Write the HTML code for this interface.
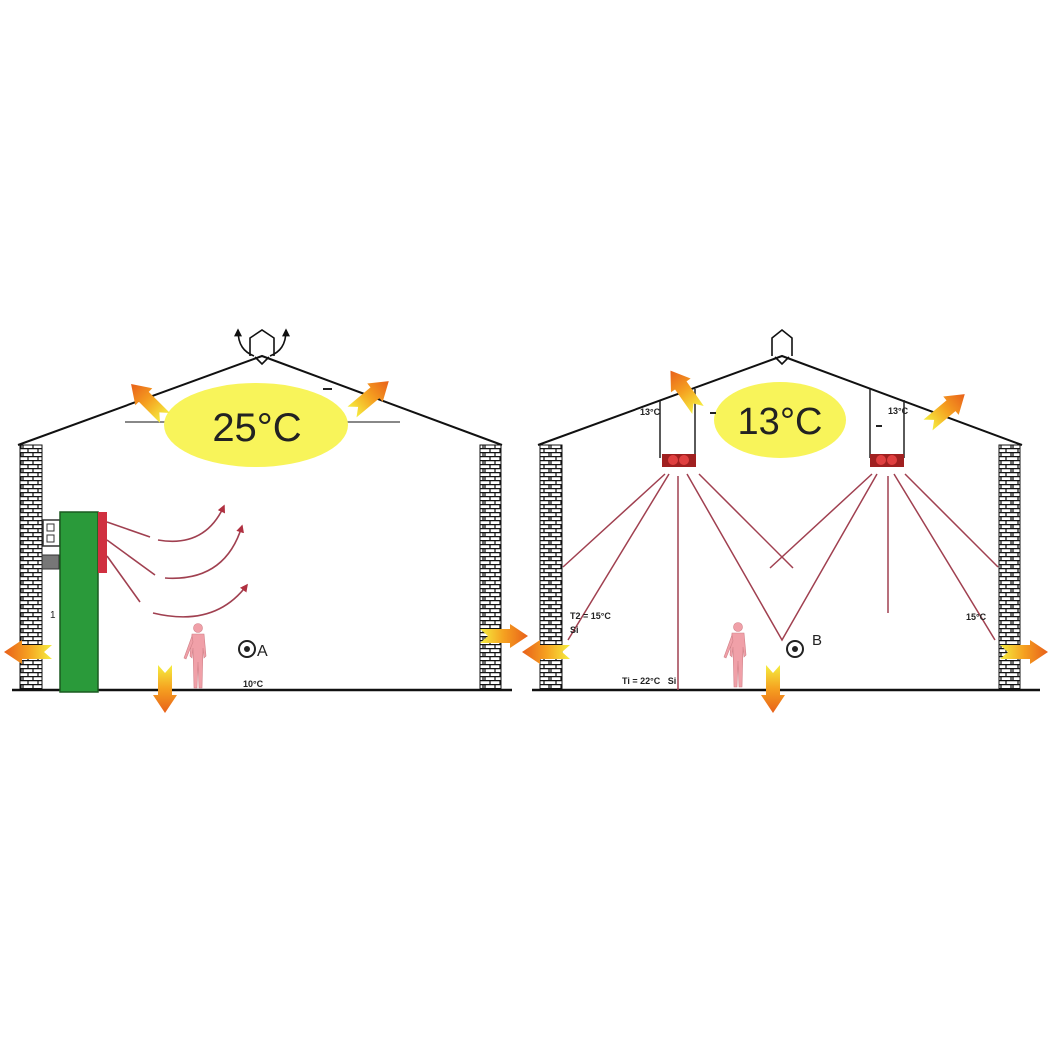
<!DOCTYPE html>
<html><head><meta charset="utf-8"><style>
html,body{margin:0;padding:0;background:#fff;}
svg{display:block;font-family:"Liberation Sans",sans-serif;}
</style></head><body>
<svg width="1050" height="1050" viewBox="0 0 1050 1050" xmlns="http://www.w3.org/2000/svg">
<defs>
<pattern id="brick" x="0" y="0" width="22" height="8" patternUnits="userSpaceOnUse">
<rect width="22" height="8" fill="#fff"/>
<g fill="none" stroke="#111" stroke-width="1.2">
<line x1="0" y1="0.6" x2="22" y2="0.6"/><line x1="0" y1="4.6" x2="22" y2="4.6"/>
<line x1="6" y1="0" x2="6" y2="4.6"/><line x1="16" y1="0" x2="16" y2="4.6"/>
<line x1="1" y1="4.6" x2="1" y2="8"/><line x1="11" y1="4.6" x2="11" y2="8"/><line x1="21" y1="4.6" x2="21" y2="8"/>
</g>
</pattern>
<linearGradient id="og" x1="0" y1="0" x2="1" y2="0">
<stop offset="0" stop-color="#f5ee40"/><stop offset="0.5" stop-color="#f5a020"/><stop offset="1" stop-color="#e8601a"/>
</linearGradient>
<g id="arr"><polygon points="0,-7 8,0 0,7 30,7 30,12 48,0 30,-12 30,-7" fill="url(#og)"/></g>
<marker id="ah" viewBox="0 0 10 10" refX="8" refY="5" markerWidth="5" markerHeight="5" orient="auto"><path d="M0,0 L10,5 L0,10 z" fill="#b03040"/></marker>
<marker id="bh" viewBox="0 0 10 10" refX="8" refY="5" markerWidth="5" markerHeight="5" orient="auto"><path d="M0,0 L10,5 L0,10 z" fill="#111"/></marker>
<g id="person" fill="#f0a0a8" stroke="#d08088" stroke-width="0.6">
<circle cx="0" cy="0" r="4.5"/>
<path d="M-6,6 L6,6 L8,28 L6,30 L5,20 L4,60 L1,60 L0,34 L-1,60 L-4,60 L-5,20 L-6,30 L-8,28 Z"/>
<path d="M-6,8 L-14,30 L-12,31 L-5,14 Z"/>
</g>
</defs>

<!-- LEFT BUILDING -->
<polyline points="18,445 262,356 502,445" fill="none" stroke="#111" stroke-width="2"/>
<rect x="20" y="445" width="22" height="245" fill="url(#brick)" stroke="#111"/>
<rect x="480" y="445" width="21" height="245" fill="url(#brick)" stroke="#111"/>
<line x1="12" y1="690" x2="512" y2="690" stroke="#111" stroke-width="2.5"/>
<line x1="125" y1="422" x2="168" y2="422" stroke="#888" stroke-width="2"/>
<line x1="343" y1="422" x2="400" y2="422" stroke="#888" stroke-width="2"/>
<line x1="323" y1="389" x2="332" y2="389" stroke="#222" stroke-width="2"/>
<ellipse cx="256" cy="425" rx="92" ry="42" fill="#f8f45a"/>
<text x="257" y="441" font-size="40" text-anchor="middle" fill="#222">25°C</text>
<g fill="none" stroke="#111" stroke-width="1.6">
<path d="M250,356 L250,338 L262,330 L274,338 L274,356"/>
<path d="M255,357 L262,364 L269,357"/>
<path d="M254,356 C244,352 238,345 238,330" marker-end="url(#bh)"/>
<path d="M270,356 C280,352 286,345 286,330" marker-end="url(#bh)"/>
</g>
<rect x="43" y="520" width="17" height="26" fill="#fff" stroke="#333" stroke-width="1.5"/>
<rect x="47" y="524" width="7" height="7" fill="#fff" stroke="#333"/>
<rect x="47" y="535" width="7" height="7" fill="#fff" stroke="#333"/>
<rect x="42" y="555" width="17" height="14" fill="#777" stroke="#333"/>
<rect x="60" y="512" width="38" height="180" fill="#2a9a3a" stroke="#1a5a20" stroke-width="1.5"/>
<rect x="98" y="512" width="9" height="61" fill="#d03040"/>
<text x="50" y="618" font-size="10" fill="#222">1</text>
<g stroke="#a04050" stroke-width="1.6" fill="none">
<line x1="107" y1="522" x2="150" y2="537"/>
<path d="M158,540 Q205,548 224,506" marker-end="url(#ah)"/>
<line x1="107" y1="540" x2="155" y2="575"/>
<path d="M165,578 Q225,582 242,526" marker-end="url(#ah)"/>
<line x1="107" y1="556" x2="140" y2="602"/>
<path d="M153,613 Q215,628 247,585" marker-end="url(#ah)"/>
</g>
<use href="#person" x="198" y="628"/>
<circle cx="247" cy="649" r="8" fill="#fff" stroke="#222" stroke-width="2"/>
<circle cx="247" cy="649" r="3" fill="#222"/>
<text x="257" y="656" font-size="16" fill="#222">A</text>
<text x="243" y="687" font-size="9" font-weight="bold" fill="#222">10°C</text>
<use href="#arr" transform="translate(52,652) rotate(180)"/>
<use href="#arr" transform="translate(480,636)"/>
<use href="#arr" transform="translate(165,665) rotate(90)"/>
<use href="#arr" transform="translate(165,418) rotate(-135)"/>
<use href="#arr" transform="translate(352,412) rotate(-40)"/>

<!-- RIGHT BUILDING -->
<polyline points="538,445 782,356 1022,445" fill="none" stroke="#111" stroke-width="2"/>
<rect x="540" y="445" width="22" height="245" fill="url(#brick)" stroke="#111"/>
<rect x="999" y="445" width="21" height="245" fill="url(#brick)" stroke="#111"/>
<line x1="532" y1="690" x2="1040" y2="690" stroke="#111" stroke-width="2.5"/>
<ellipse cx="780" cy="420" rx="66" ry="38" fill="#f8f45a"/>
<text x="780" y="434" font-size="38" text-anchor="middle" fill="#222">13°C</text>
<line x1="710" y1="413" x2="716" y2="413" stroke="#222" stroke-width="2"/>
<line x1="876" y1="426" x2="882" y2="426" stroke="#222" stroke-width="2"/>
<g fill="none" stroke="#111" stroke-width="1.6">
<path d="M772,356 L772,338 L782,330 L792,338 L792,356"/>
<path d="M775,357 L782,364 L789,357"/>
</g>
<g stroke="#222" stroke-width="1.5">
<line x1="660" y1="401" x2="660" y2="458"/><line x1="695" y1="389" x2="695" y2="458"/>
<line x1="870" y1="389" x2="870" y2="458"/><line x1="904" y1="400" x2="904" y2="458"/>
</g>
<g>
<rect x="662" y="454" width="34" height="13" fill="#a02020"/>
<circle cx="673" cy="460" r="5" fill="#e04040"/><circle cx="684" cy="460" r="5" fill="#e04040"/>
<rect x="870" y="454" width="34" height="13" fill="#a02020"/>
<circle cx="881" cy="460" r="5" fill="#e04040"/><circle cx="892" cy="460" r="5" fill="#e04040"/>
</g>
<g stroke="#a04050" stroke-width="1.5" fill="none">
<line x1="665" y1="474" x2="563" y2="567"/>
<line x1="669" y1="474" x2="568" y2="640"/>
<line x1="678" y1="476" x2="678" y2="690"/>
<polyline points="687,474 782,640 877,474"/>
<line x1="699" y1="474" x2="793" y2="568"/>
<line x1="872" y1="474" x2="770" y2="568"/>
<line x1="888" y1="476" x2="888" y2="613"/>
<line x1="894" y1="474" x2="995" y2="640"/>
<line x1="905" y1="474" x2="998" y2="567"/>
</g>
<text x="640" y="415" font-size="9" font-weight="bold" fill="#222">13°C</text>
<text x="888" y="414" font-size="9" font-weight="bold" fill="#222">13°C</text>
<text x="570" y="619" font-size="9" font-weight="bold" fill="#222">T2 = 15°C</text>
<text x="570" y="633" font-size="9" font-weight="bold" fill="#222">Si</text>
<text x="966" y="620" font-size="9" font-weight="bold" fill="#222">15°C</text>
<text x="622" y="684" font-size="9" font-weight="bold" fill="#222">Ti = 22°C &#160; Si</text>
<use href="#person" x="738" y="627"/>
<circle cx="795" cy="649" r="8" fill="#fff" stroke="#222" stroke-width="2"/>
<circle cx="795" cy="649" r="3" fill="#222"/>
<text x="812" y="645" font-size="15" fill="#222">B</text>
<use href="#arr" transform="translate(570,652) rotate(180)"/>
<use href="#arr" transform="translate(1000,652)"/>
<use href="#arr" transform="translate(773,665) rotate(90)"/>
<use href="#arr" transform="translate(698,410) rotate(-125)"/>
<use href="#arr" transform="translate(928,425) rotate(-40)"/>
</svg>
</body></html>
